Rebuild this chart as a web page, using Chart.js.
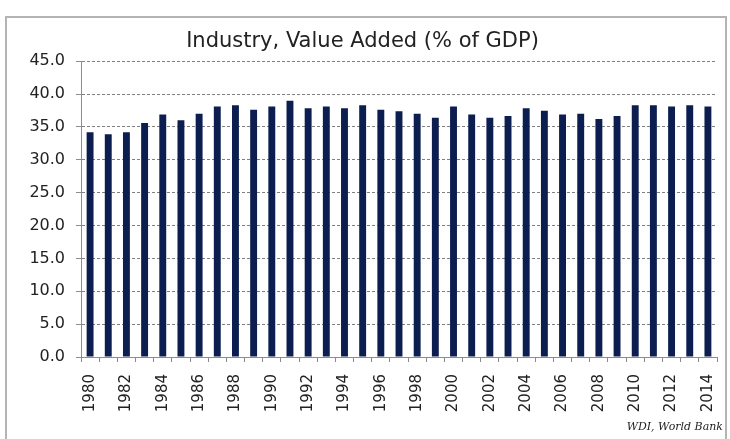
<!DOCTYPE html>
<html>
<head>
<meta charset="utf-8">
<script src="https://cdn.jsdelivr.net/npm/chart.js@4"></script>
<style>
  html, body { margin: 0; padding: 0; background: #fff; }
  #wrap { position: relative; width: 730px; height: 439px; }
  #frame { position: absolute; left: 5px; top: 16px; width: 722px; height: 440px; border: 2px solid #b4b4b4; box-sizing: border-box; }
  #source { position: absolute; right: 7px; top: 420px; font: italic 11px "DejaVu Serif", serif; color: #222; }
  canvas { position: absolute; left: 0; top: 0; }
</style>
</head>
<body>
<div id="wrap">
  <div id="frame"></div>
  <canvas id="chart" width="730" height="439"></canvas>
  <div id="source">WDI, World Bank</div>
</div>
<script>
// ── data ──
const years = [];
for (let y = 1980; y <= 2014; y++) years.push(String(y));
const industryShare = [
  34.2, 33.9, 34.2, 35.6, 36.9, 36.0, 37.0, 38.1, 38.3, 37.6,
  38.1, 39.0, 37.85, 38.1, 37.85, 38.3, 37.6, 37.4, 37.0, 36.4,
  38.1, 36.9, 36.4, 36.65, 37.85, 37.45, 36.9, 37.0, 36.2, 36.65,
  38.3, 38.3, 38.1, 38.3, 38.1
];
const yTicks = [0, 5, 10, 15, 20, 25, 30, 35, 40, 45];

const AXIS = '#8c8c8c';
const FONT = 'DejaVu Sans';

new Chart(document.getElementById('chart'), {
  type: 'bar',
  data: {
    labels: years,
    datasets: [{ data: industryShare, backgroundColor: '#0c1e4f', barPercentage: 0.38, categoryPercentage: 1 }]
  },
  options: {
    responsive: false,
    animation: false,
    layout: { padding: { left: 8, right: 13, top: 0, bottom: 0 } },
    plugins: {
      legend: { display: false },
      tooltip: { enabled: false },
      title: {
        display: true,
        text: 'Industry, Value Added (% of GDP)',
        color: '#222',
        font: { family: FONT, size: 21, weight: 'normal' },
        padding: { top: 29, bottom: 7 }
      }
    },
    scales: {
      x: {
        offset: true,
        grid: { offset: true, drawOnChartArea: false, drawTicks: true, tickLength: 5, color: AXIS },
        border: { color: AXIS, width: 1 },
        ticks: {
          autoSkip: false, maxRotation: 90, minRotation: 90, color: '#222', padding: 12,
          font: { family: FONT, size: 15 },
          callback: (v, i) => (i % 2 === 0 ? years[i] : '')
        },
        afterFit: s => { s.height = 82; s.paddingLeft = 0; s.paddingRight = 0; }
      },
      y: {
        min: 0, max: 45,
        afterBuildTicks: s => { s.ticks = yTicks.map(v => ({ value: v })); },
        grid: { color: '#808080', tickColor: AXIS, tickLength: 5 },
        border: { color: AXIS, width: 1, dash: [3, 2] },
        ticks: { color: '#222', padding: 11, font: { family: FONT, size: 16 }, callback: v => v.toFixed(1) },
        afterFit: s => { s.width = 73; }
      }
    }
  }
});
</script>
</body>
</html>
